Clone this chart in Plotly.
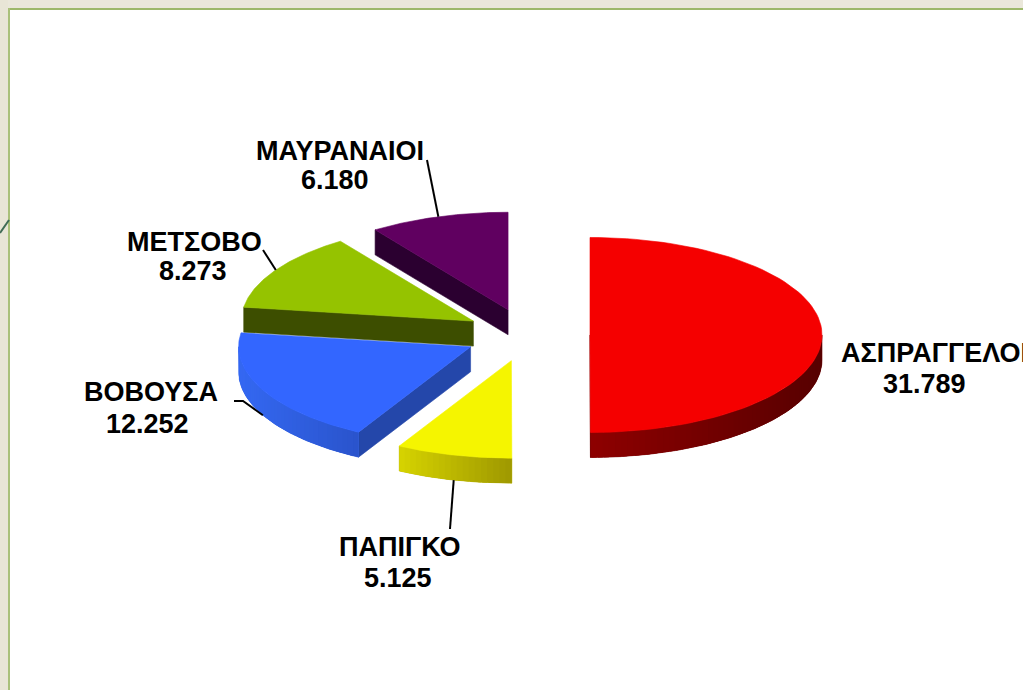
import numpy as np
import plotly.graph_objects as go

# ---------------- data ----------------
names = ["ΑΣΠΡΑΓΓΕΛΟΙ", "ΠΑΠΙΓΚΟ", "ΒΟΒΟΥΣΑ", "ΜΕΤΣΟΒΟ", "ΜΑΥΡΑΝΑΙΟΙ"]
values = [31.789, 5.125, 12.252, 8.273, 6.180]
value_labels = [f"{v:.3f}" for v in values]

# ---------------- styles ----------------
top_colors = ["#F50000", "#F5F500", "#3366FF", "#95C300", "#600060"]
wall_left = ["#8E0000", "#D6D300", "#3468F2", "#3D4F00", "#2B0030"]
wall_right = ["#570000", "#9E9800", "#2A54CC", "#3D4F00", "#2B0030"]
radial_colors = ["#6E0000", "#B0AA00", "#2447AA", "#3D4E00", "#2B0030"]

# label layout (name x, name y, value x, value y, name anchor)
label_pos = [
    (839, 353, 924, 384, "left"),
    (400, 547, 398, 578, "center"),
    (151, 392, 147, 424, "center"),
    (194, 242, 193, 271, "center"),
    (340, 151, 335, 180, "center"),
]
# leader line end near labels (list of points), None = no leader
leader_ends = [
    None,
    [(450, 529)],
    [(243, 401), (234, 401)],
    [(263, 250)],
    [(427, 160)],
]

# geometry (pixel space)
CX, CY = 527, 335
RX, RY = 232, 97.5
EXPLODE = 63
DEPTH = 25

W, H = 1023, 690

total = sum(values)
angles = np.cumsum([0] + [v / total * 360 for v in values])


def hex2rgb(h):
    h = h.lstrip("#")
    return tuple(int(h[i:i + 2], 16) for i in (0, 2, 4))


def lerp(c1, c2, t):
    a, b = hex2rgb(c1), hex2rgb(c2)
    return "rgb(%d,%d,%d)" % tuple(round(a[k] + (b[k] - a[k]) * t) for k in range(3))


def apex_of(i):
    m = np.radians((angles[i] + angles[i + 1]) / 2)
    return (CX + EXPLODE * np.sin(m), CY - EXPLODE * RY / RX * np.cos(m))


def rim(ap, th_deg, dz=0.0):
    t = np.radians(th_deg)
    return (ap[0] + RX * np.sin(t), ap[1] - RY * np.cos(t) + dz)


fig = go.Figure()


def poly(xs, ys, color, lw=0.6):
    fig.add_trace(go.Scatter(
        x=list(xs) + [xs[0]], y=list(ys) + [ys[0]], mode="lines",
        fill="toself", fillcolor=color,
        line=dict(color=color, width=lw) if lw > 0 else dict(width=0),
        hoverinfo="skip", showlegend=False))


order = sorted(range(len(values)), key=lambda i: apex_of(i)[1])

for i in order:
    a1, a2 = angles[i], angles[i + 1]
    ap = apex_of(i)
    # radial faces
    if np.cos(np.radians(a1 - 90)) < -1e-6:
        p = rim(ap, a1)
        poly([ap[0], p[0], p[0], ap[0]], [ap[1], p[1], p[1] + DEPTH, ap[1] + DEPTH], radial_colors[i])
    if np.cos(np.radians(a2 + 90)) < -1e-6:
        p = rim(ap, a2)
        poly([ap[0], p[0], p[0], ap[0]], [ap[1], p[1], p[1] + DEPTH, ap[1] + DEPTH], radial_colors[i])
    # outer wall (gradient made of overlapping strips)
    w1, w2 = max(a1, 90), min(a2, 270)
    if w2 > w1:
        n = max(10, int((w2 - w1) / 1.5))
        ths = np.linspace(w1, w2, n + 1)
        step = ths[1] - ths[0]
        xs_all = [rim(ap, t)[0] for t in ths]
        xmin, xmax = min(xs_all), max(xs_all)
        # base wall in mid colour under the strips to hide seams
        tt = np.linspace(w1, w2, 120)
        pts = [rim(ap, t) for t in tt] + [rim(ap, t, DEPTH) for t in tt[::-1]]
        poly([q[0] for q in pts], [q[1] for q in pts], lerp(wall_left[i], wall_right[i], 0.5), lw=0.6)
        for k in range(n):
            e = min(ths[k + 1] + step * 0.8, w2)
            tt = np.linspace(ths[k], e, 5)
            top = [rim(ap, t) for t in tt]
            bot = [rim(ap, t, DEPTH) for t in tt[::-1]]
            xm = (top[0][0] + rim(ap, ths[k + 1])[0]) / 2
            f = (xm - xmin) / (xmax - xmin) if xmax > xmin else 0
            col = lerp(wall_left[i], wall_right[i], f)
            pts = top + bot
            poly([q[0] for q in pts], [q[1] for q in pts], col, lw=0)
    # top face
    tt = np.linspace(a1, a2, 80)
    pts = [ap] + [rim(ap, t) for t in tt]
    poly([q[0] for q in pts], [q[1] for q in pts], top_colors[i])

# leader lines
for i in range(len(values)):
    if leader_ends[i] is None:
        continue
    m = (angles[i] + angles[i + 1]) / 2
    ap = apex_of(i)
    front = np.cos(np.radians(m)) < 0
    p = rim(ap, m, DEPTH if front else 0)
    pts = [p] + leader_ends[i]
    fig.add_trace(go.Scatter(x=[q[0] for q in pts], y=[q[1] for q in pts], mode="lines",
                             line=dict(color="black", width=2), hoverinfo="skip", showlegend=False))

# labels
fnt = dict(family="Liberation Sans, Arial, sans-serif", size=27, color="black")
for i in range(len(values)):
    nx, ny, vx, vy, anc = label_pos[i]
    fig.add_annotation(x=nx, y=ny, text="<b>" + names[i] + "</b>", showarrow=False,
                       xanchor=anc, yanchor="middle", font=fnt, xref="x", yref="y")
    fig.add_annotation(x=vx, y=vy, text="<b>" + value_labels[i] + "</b>", showarrow=False,
                       xanchor="center", yanchor="middle", font=fnt, xref="x", yref="y")

# slide frame decoration
shapes = [
    dict(type="rect", x0=0, x1=W, y0=0, y1=8, fillcolor="#EAE7DA", line_width=0, layer="below"),
    dict(type="rect", x0=0, x1=8, y0=0, y1=H, fillcolor="#E8E5D6", line_width=0, layer="below"),
    dict(type="rect", x0=8, x1=W, y0=8, y1=10, fillcolor="#9DB86A", line_width=0, layer="below"),
    dict(type="rect", x0=8, x1=10, y0=8, y1=H, fillcolor="#A9C07A", line_width=0, layer="below"),
    dict(type="line", x0=0, y0=233, x1=9, y1=220, line=dict(color="#3F6B55", width=2)),
]

fig.update_layout(
    width=W, height=H, margin=dict(l=0, r=0, t=0, b=0),
    paper_bgcolor="white", plot_bgcolor="white",
    xaxis=dict(range=[0, W], visible=False, fixedrange=True),
    yaxis=dict(range=[H, 0], visible=False, fixedrange=True),
    shapes=shapes, showlegend=False,
)

fig.write_html("out.html")
